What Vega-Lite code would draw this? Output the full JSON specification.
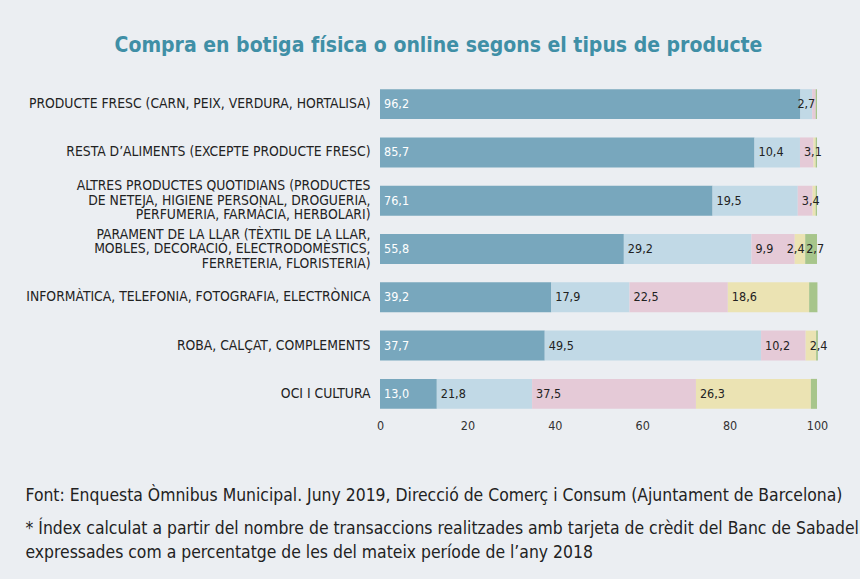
{
  "$schema": "https://vega.github.io/schema/vega-lite/v6.json",
  "width": 437,
  "height": 338,
  "autosize": {"type": "none"},
  "padding": {"left": 380, "top": 80, "right": 43, "bottom": 161},
  "background": "#ebeef2",
  "config": {"view": {"stroke": null}},
  "title": {
    "text": "Compra en botiga física o online segons el tipus de producte",
    "anchor": "middle",
    "frame": "group",
    "dx": -160,
    "offset": 24,
    "font": "DejaVu Sans Condensed",
    "fontSize": 21,
    "fontWeight": "bold",
    "color": "#3f8fa6"
  },
  "data": {
    "values": [
      {"cat": "PRODUCTE FRESC (CARN, PEIX, VERDURA, HORTALISA)", "serie": "Només botiga física", "k": 1, "value": 96.2, "label": "96,2"},
      {"cat": "PRODUCTE FRESC (CARN, PEIX, VERDURA, HORTALISA)", "serie": "Majoritàriament botiga física", "k": 2, "value": 2.7, "label": "2,7"},
      {"cat": "PRODUCTE FRESC (CARN, PEIX, VERDURA, HORTALISA)", "serie": "Indistintament", "k": 3, "value": 0.8, "label": ""},
      {"cat": "PRODUCTE FRESC (CARN, PEIX, VERDURA, HORTALISA)", "serie": "Majoritàriament online", "k": 4, "value": 0.0, "label": ""},
      {"cat": "PRODUCTE FRESC (CARN, PEIX, VERDURA, HORTALISA)", "serie": "Només online", "k": 5, "value": 0.3, "label": ""},

      {"cat": "RESTA D’ALIMENTS (EXCEPTE PRODUCTE FRESC)", "serie": "Només botiga física", "k": 1, "value": 85.7, "label": "85,7"},
      {"cat": "RESTA D’ALIMENTS (EXCEPTE PRODUCTE FRESC)", "serie": "Majoritàriament botiga física", "k": 2, "value": 10.4, "label": "10,4"},
      {"cat": "RESTA D’ALIMENTS (EXCEPTE PRODUCTE FRESC)", "serie": "Indistintament", "k": 3, "value": 3.1, "label": "3,1"},
      {"cat": "RESTA D’ALIMENTS (EXCEPTE PRODUCTE FRESC)", "serie": "Majoritàriament online", "k": 4, "value": 0.5, "label": ""},
      {"cat": "RESTA D’ALIMENTS (EXCEPTE PRODUCTE FRESC)", "serie": "Només online", "k": 5, "value": 0.3, "label": ""},

      {"cat": "ALTRES PRODUCTES QUOTIDIANS (PRODUCTES|DE NETEJA, HIGIENE PERSONAL, DROGUERIA,|PERFUMERIA, FARMÀCIA, HERBOLARI)", "serie": "Només botiga física", "k": 1, "value": 76.1, "label": "76,1"},
      {"cat": "ALTRES PRODUCTES QUOTIDIANS (PRODUCTES|DE NETEJA, HIGIENE PERSONAL, DROGUERIA,|PERFUMERIA, FARMÀCIA, HERBOLARI)", "serie": "Majoritàriament botiga física", "k": 2, "value": 19.5, "label": "19,5"},
      {"cat": "ALTRES PRODUCTES QUOTIDIANS (PRODUCTES|DE NETEJA, HIGIENE PERSONAL, DROGUERIA,|PERFUMERIA, FARMÀCIA, HERBOLARI)", "serie": "Indistintament", "k": 3, "value": 3.4, "label": "3,4"},
      {"cat": "ALTRES PRODUCTES QUOTIDIANS (PRODUCTES|DE NETEJA, HIGIENE PERSONAL, DROGUERIA,|PERFUMERIA, FARMÀCIA, HERBOLARI)", "serie": "Majoritàriament online", "k": 4, "value": 0.7, "label": ""},
      {"cat": "ALTRES PRODUCTES QUOTIDIANS (PRODUCTES|DE NETEJA, HIGIENE PERSONAL, DROGUERIA,|PERFUMERIA, FARMÀCIA, HERBOLARI)", "serie": "Només online", "k": 5, "value": 0.3, "label": ""},

      {"cat": "PARAMENT DE LA LLAR (TÈXTIL DE LA LLAR,|MOBLES, DECORACIÓ, ELECTRODOMÈSTICS,|FERRETERIA, FLORISTERIA)", "serie": "Només botiga física", "k": 1, "value": 55.8, "label": "55,8"},
      {"cat": "PARAMENT DE LA LLAR (TÈXTIL DE LA LLAR,|MOBLES, DECORACIÓ, ELECTRODOMÈSTICS,|FERRETERIA, FLORISTERIA)", "serie": "Majoritàriament botiga física", "k": 2, "value": 29.2, "label": "29,2"},
      {"cat": "PARAMENT DE LA LLAR (TÈXTIL DE LA LLAR,|MOBLES, DECORACIÓ, ELECTRODOMÈSTICS,|FERRETERIA, FLORISTERIA)", "serie": "Indistintament", "k": 3, "value": 9.9, "label": "9,9"},
      {"cat": "PARAMENT DE LA LLAR (TÈXTIL DE LA LLAR,|MOBLES, DECORACIÓ, ELECTRODOMÈSTICS,|FERRETERIA, FLORISTERIA)", "serie": "Majoritàriament online", "k": 4, "value": 2.4, "label": "2,4"},
      {"cat": "PARAMENT DE LA LLAR (TÈXTIL DE LA LLAR,|MOBLES, DECORACIÓ, ELECTRODOMÈSTICS,|FERRETERIA, FLORISTERIA)", "serie": "Només online", "k": 5, "value": 2.7, "label": "2,7"},

      {"cat": "INFORMÀTICA, TELEFONIA, FOTOGRAFIA, ELECTRÒNICA", "serie": "Només botiga física", "k": 1, "value": 39.2, "label": "39,2"},
      {"cat": "INFORMÀTICA, TELEFONIA, FOTOGRAFIA, ELECTRÒNICA", "serie": "Majoritàriament botiga física", "k": 2, "value": 17.9, "label": "17,9"},
      {"cat": "INFORMÀTICA, TELEFONIA, FOTOGRAFIA, ELECTRÒNICA", "serie": "Indistintament", "k": 3, "value": 22.5, "label": "22,5"},
      {"cat": "INFORMÀTICA, TELEFONIA, FOTOGRAFIA, ELECTRÒNICA", "serie": "Majoritàriament online", "k": 4, "value": 18.6, "label": "18,6"},
      {"cat": "INFORMÀTICA, TELEFONIA, FOTOGRAFIA, ELECTRÒNICA", "serie": "Només online", "k": 5, "value": 1.9, "label": ""},

      {"cat": "ROBA, CALÇAT, COMPLEMENTS", "serie": "Només botiga física", "k": 1, "value": 37.7, "label": "37,7"},
      {"cat": "ROBA, CALÇAT, COMPLEMENTS", "serie": "Majoritàriament botiga física", "k": 2, "value": 49.5, "label": "49,5"},
      {"cat": "ROBA, CALÇAT, COMPLEMENTS", "serie": "Indistintament", "k": 3, "value": 10.2, "label": "10,2"},
      {"cat": "ROBA, CALÇAT, COMPLEMENTS", "serie": "Majoritàriament online", "k": 4, "value": 2.4, "label": "2,4"},
      {"cat": "ROBA, CALÇAT, COMPLEMENTS", "serie": "Només online", "k": 5, "value": 0.4, "label": ""},

      {"cat": "OCI I CULTURA", "serie": "Només botiga física", "k": 1, "value": 13.0, "label": "13,0"},
      {"cat": "OCI I CULTURA", "serie": "Majoritàriament botiga física", "k": 2, "value": 21.8, "label": "21,8"},
      {"cat": "OCI I CULTURA", "serie": "Indistintament", "k": 3, "value": 37.5, "label": "37,5"},
      {"cat": "OCI I CULTURA", "serie": "Majoritàriament online", "k": 4, "value": 26.3, "label": "26,3"},
      {"cat": "OCI I CULTURA", "serie": "Només online", "k": 5, "value": 1.4, "label": ""}
    ]
  },
  "transform": [
    {"stack": "value", "groupby": ["cat"], "sort": [{"field": "k", "order": "ascending"}], "as": ["v0", "v1"]}
  ],
  "encoding": {
    "y": {
      "field": "cat",
      "type": "nominal",
      "sort": null,
      "scale": {"paddingInner": 0.38, "paddingOuter": 0.19},
      "axis": {
        "domain": false,
        "ticks": false,
        "labelExpr": "split(datum.label, '|')",
        "labelOffset": {"condition": {"test": "indexof(datum.label, '|') >= 0", "value": -14.5}, "value": 0},
        "labelFont": "DejaVu Sans Condensed",
        "labelFontSize": 13.8,
        "labelColor": "#222222",
        "labelPadding": 10,
        "labelLineHeight": 14.5,
        "labelLimit": 400,
        "title": "Font: Enquesta Òmnibus Municipal. Juny 2019, Direcció de Comerç i Consum (Ajuntament de Barcelona)",
        "titleAngle": 0,
        "titleX": -355,
        "titleY": 420,
        "titleAlign": "left",
        "titleBaseline": "alphabetic",
        "titleFont": "DejaVu Sans Condensed",
        "titleFontSize": 17.4,
        "titleFontWeight": "normal",
        "titleColor": "#222222",
        "titleLimit": 1000
      }
    }
  },
  "layer": [
    {
      "mark": {"type": "bar"},
      "encoding": {
        "x": {
          "field": "v0",
          "type": "quantitative",
          "scale": {"domain": [0, 100], "nice": false},
          "axis": {
            "values": [0, 20, 40, 60, 80, 100],
            "grid": false,
            "domain": false,
            "ticks": false,
            "labelFlush": false,
            "labelFont": "DejaVu Sans Condensed",
            "labelFontSize": 12.5,
            "labelColor": "#333333",
            "labelPadding": 1,
            "title": ["* Índex calculat a partir del nombre de transaccions realitzades amb tarjeta de crèdit del Banc de Sabadell,", "expressades com a percentatge de les del mateix període de l’any 2018"],
            "titleX": -355,
            "titleY": 115,
            "titleAlign": "left",
            "titleBaseline": "alphabetic",
            "titleFont": "DejaVu Sans Condensed",
            "titleFontSize": 17.4,
            "titleFontWeight": "normal",
            "titleColor": "#222222",
            "titleLineHeight": 24,
            "titleLimit": 1000
          }
        },
        "x2": {"field": "v1"},
        "color": {
          "field": "serie",
          "type": "nominal",
          "scale": {
            "domain": ["Només botiga física", "Majoritàriament botiga física", "Indistintament", "Majoritàriament online", "Només online"],
            "range": ["#78a7bd", "#c1d9e6", "#e5cad7", "#ebe3b3", "#a7c58b"]
          },
          "legend": null
        }
      }
    },
    {
      "mark": {
        "type": "text",
        "align": "left",
        "baseline": "middle",
        "dx": {"expr": "(datum.k == 4 && datum.value < 5 && datum.v1 < 98) ? -8 : (datum.k == 5 ? 1 : ((datum.k == 2 && datum.value < 5) ? -3 : 4))"},
        "font": "DejaVu Sans Condensed",
        "fontSize": 12.5
      },
      "encoding": {
        "x": {"field": "v0", "type": "quantitative"},
        "text": {"field": "label"},
        "color": {
          "condition": {"test": "datum.k == 1", "value": "#ffffff"},
          "value": "#222222"
        }
      }
    }
  ]
}
